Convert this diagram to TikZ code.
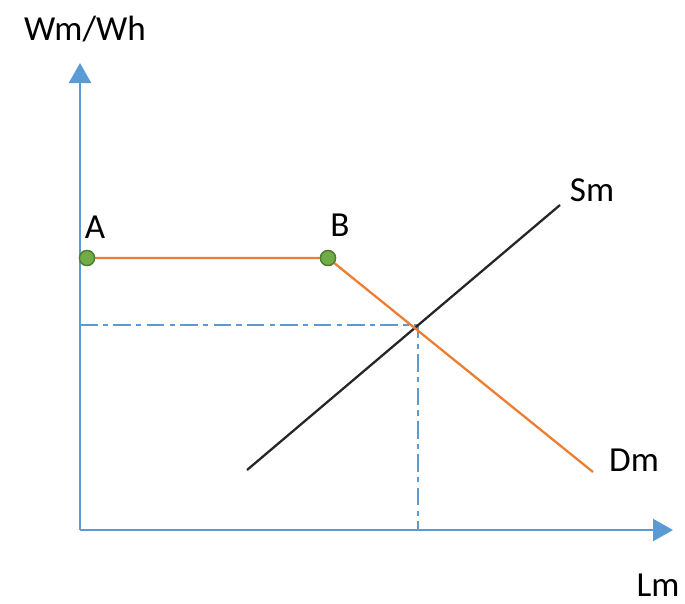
\documentclass[tikz,border=0pt]{standalone}
\usepackage{fontspec}
\setmainfont{Carlito}
\usetikzlibrary{arrows.meta}
\definecolor{axisblue}{HTML}{5B9BD5}
\definecolor{curveorange}{HTML}{ED7D31}
\definecolor{ptgreen}{HTML}{70AD47}
\definecolor{ptedge}{HTML}{507E32}

\begin{document}
\begin{tikzpicture}[
  x=0.02cm, y=-0.02cm,
  font=\fontsize{20}{24}\selectfont,
  axis/.style={draw=axisblue, line width=1.4pt, -{Triangle[length=0.4cm,width=0.44cm]}},
  guide/.style={draw=axisblue, line width=1pt, dash pattern=on 10pt off 3pt on 3pt off 3pt},
  demand/.style={draw=curveorange, line width=1.3pt},
  supply/.style={draw=black!85, line width=1.3pt},
  pt/.style={circle, fill=ptgreen, draw=ptedge, line width=0.8pt, minimum size=0.3cm, inner sep=0pt},
]
\useasboundingbox (0,0) rectangle (685,603);

% ---- axes ----
\coordinate (O)    at (80,530);
\coordinate (ytip) at (80,63);
\coordinate (xtip) at (673,530);
\draw[axis] (O) -- (ytip);
\draw[axis] (O) -- (xtip);
\node (ylab) at (85,29)  {Wm/Wh};
\node[inner sep=1pt] (xlab) at (658,585) {Lm};

% ---- equilibrium guides ----
\coordinate (E) at (418,325);
\draw[guide] (E -| O) -- (E) -- (E |- O);

% ---- curves ----
\coordinate (smLow)  at (247,470);
\coordinate (smHigh) at (560,205);
\coordinate (dmEnd)  at (593,472);
\node[pt] (A) at (87,258) {};
\node[pt] (B) at (328,258) {};
\draw[supply] (smLow) -- (smHigh);
\draw[demand] (A.center) -- (B.center) -- (dmEnd);
\node[pt] at (A) {};
\node[pt] at (B) {};

% ---- labels ----
\node (labA)  at (95,227)  {A};
\node (labB)  at (340,225) {B};
\node (labSm) at (592,190) {Sm};
\node (labDm) at (634,460) {Dm};
\end{tikzpicture}
\end{document}
